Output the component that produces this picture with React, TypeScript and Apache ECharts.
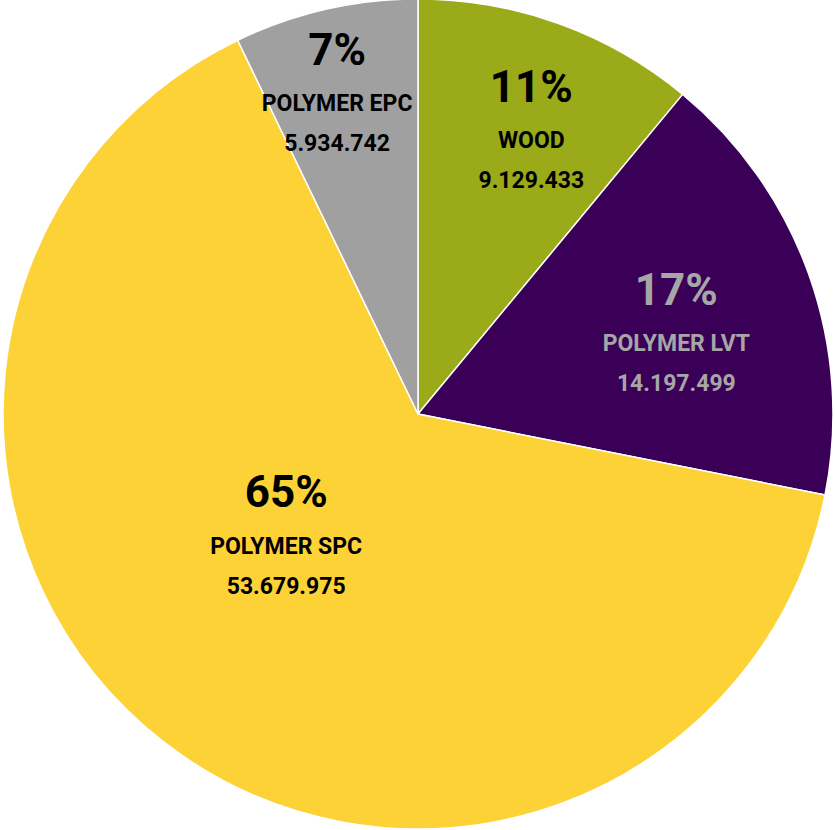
import React, { useEffect, useRef } from "react";
import * as echarts from "echarts";

const categories = ["WOOD", "POLYMER LVT", "POLYMER SPC", "POLYMER EPC"];
const values = [9129433, 14197499, 53679975, 5934742];
const colors = ["#9BAA18", "#3A0057", "#FDD236", "#A0A0A0"];
const textColors = ["#000000", "#A6A6A6", "#000000", "#000000"];
const labelShift = [
  [42, -89],
  [60, -14],
  [-3, -48],
  [-34, -119],
];

function fmt(n: number): string {
  return String(n).replace(/\B(?=(\d{3})+(?!\d))/g, ".");
}

export default function App() {
  const ref = useRef<HTMLDivElement>(null);
  useEffect(() => {
    if (!ref.current) return;
    const chart = echarts.init(ref.current, undefined, { renderer: "svg" });
    const total = values.reduce((a, b) => a + b, 0);
    chart.setOption({
      animation: false,
      series: [
        {
          type: "pie",
          center: [418, 414],
          radius: [0, 415],
          startAngle: 90,
          clockwise: true,
          avoidLabelOverlap: false,
          itemStyle: { borderColor: "#ffffff", borderWidth: 1.5 },
          labelLine: { show: false },
          data: categories.map((name, i) => ({
            name,
            value: values[i],
            itemStyle: { color: colors[i] },
            label: {
              rich: {
                p: { fontSize: 44, fontWeight: "bold", color: textColors[i], lineHeight: 64, fontFamily: "Roboto" },
                n: { fontSize: 23, fontWeight: "bold", color: textColors[i], lineHeight: 44, fontFamily: "Roboto" },
                v: { fontSize: 23, fontWeight: "bold", color: textColors[i], lineHeight: 36, fontFamily: "Roboto" },
              },
            },
          })),
          label: {
            show: true,
            position: "inside",
            align: "center",
            formatter: (p: any) =>
              `{p|${Math.round((p.value / total) * 100)}%}\n{n|${p.name}}\n{v|${fmt(p.value)}}`,
          },
          labelLayout: (p: any) => ({
            dx: labelShift[p.dataIndex][0],
            dy: labelShift[p.dataIndex][1],
          }),
        },
      ],
    });
    return () => chart.dispose();
  }, []);
  return (
    <div
      ref={ref}
      style={{ position: "absolute", left: 0, top: 0, width: 835, height: 830 }}
    />
  );
}
